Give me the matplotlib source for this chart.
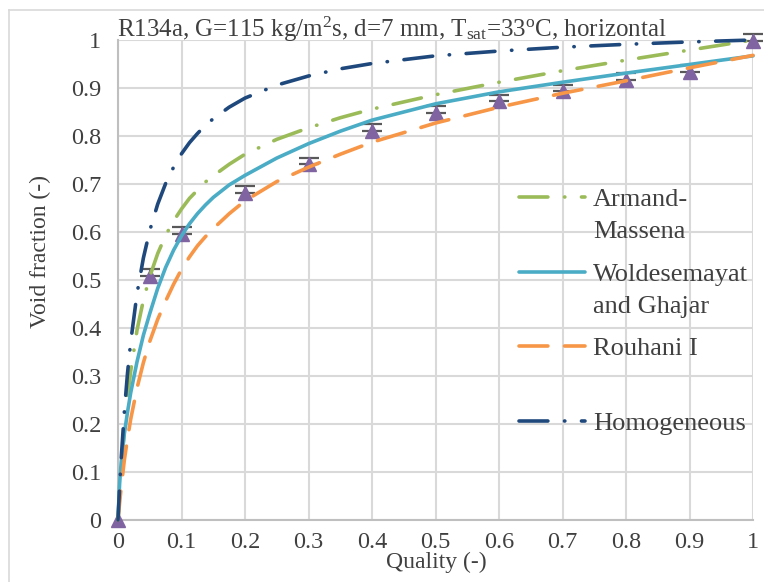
import matplotlib.pyplot as plt
from matplotlib.lines import Line2D

plt.rcParams['font.family'] = ['Liberation Serif', 'DejaVu Serif']
plt.rcParams['mathtext.fontset'] = 'custom'
plt.rcParams['mathtext.rm'] = 'Liberation Serif'
plt.rcParams['mathtext.it'] = 'Liberation Serif:italic'

# ---- data ----
quality = [0, 0.0025, 0.005, 0.01, 0.015, 0.02, 0.03, 0.04, 0.05, 0.0625, 0.075, 0.0875,
           0.1, 0.1125, 0.125, 0.1375, 0.15, 0.175, 0.2, 0.25, 0.3, 0.35, 0.4, 0.5,
           0.6, 0.7, 0.8, 0.9, 1.0]
armand = [0, 0.056, 0.106, 0.189, 0.256, 0.310, 0.396, 0.458, 0.507, 0.555, 0.593, 0.623,
          0.648, 0.670, 0.687, 0.704, 0.717, 0.741, 0.762, 0.793, 0.817, 0.838, 0.856, 0.886,
          0.912, 0.936, 0.958, 0.979, 1.0]
woldesemayat = [0, 0.075, 0.12, 0.18, 0.225, 0.265, 0.33, 0.385, 0.43, 0.4825, 0.526, 0.562,
                0.592, 0.617, 0.638, 0.656, 0.672, 0.698, 0.718, 0.754, 0.784, 0.81, 0.833, 0.867,
                0.892, 0.912, 0.931, 0.949, 0.967]
rouhani = [0, 0.035, 0.068, 0.125, 0.17, 0.21, 0.275, 0.328, 0.372, 0.418, 0.456, 0.491,
           0.522, 0.548, 0.571, 0.590, 0.607, 0.638, 0.665, 0.705, 0.735, 0.762, 0.787, 0.827,
           0.86, 0.889, 0.915, 0.942, 0.968]
homogeneous = [0, 0.068, 0.127, 0.226, 0.306, 0.371, 0.472, 0.546, 0.603, 0.658, 0.701, 0.735,
               0.763, 0.786, 0.805, 0.822, 0.836, 0.860, 0.879, 0.906, 0.925, 0.940, 0.951, 0.967,
               0.977, 0.985, 0.991, 0.996, 1.0]

exp_x = [0, 0.05, 0.1, 0.2, 0.3, 0.4, 0.5, 0.6, 0.7, 0.8, 0.9, 1.0]
exp_y = [0, 0.508, 0.596, 0.681, 0.741, 0.811, 0.848, 0.872, 0.893, 0.917, 0.933, 0.998]
exp_err = [0, 0.014, 0.014, 0.014, 0.014, 0.014, 0.014, 0.014, 0.014, 0.014, 0.014, 0.014]

ticks = [0, 0.1, 0.2, 0.3, 0.4, 0.5, 0.6, 0.7, 0.8, 0.9, 1]
tick_labels = ['0', '0.1', '0.2', '0.3', '0.4', '0.5', '0.6', '0.7', '0.8', '0.9', '1']

# ---- styles ----
W, H = 764, 582
text_col = '#404040'
grid_col = '#d9d9d9'
lw = 2.6
styles = {
    'Armand-\nMassena': dict(color='#9bbb59', dashes=(8, 4.6, 0.1, 4.6)),
    'Woldesemayat\nand Ghajar': dict(color='#4bacc6'),
    'Rouhani I': dict(color='#f79646', dashes=(8, 4.6)),
    'Homogeneous': dict(color='#1f497d', dashes=(8, 4.6, 0.1, 4.6)),
}
series = [armand, woldesemayat, rouhani, homogeneous]

fig = plt.figure(figsize=(W / 100, H / 100), dpi=100)
ax = fig.add_axes([118 / W, 1 - 520 / H, (753 - 118) / W, (520 - 40) / H])

# experimental points: only the upper whisker shows above the triangle
ax.errorbar(exp_x[1:], exp_y[1:], yerr=[[0] * (len(exp_x) - 1), exp_err[1:]], fmt='none',
            ecolor='#595959', elinewidth=1.4, capsize=7, capthick=1.6,
            clip_on=False, zorder=3)
ax.plot(exp_x, exp_y, '^', color='#8064a2', markersize=10, clip_on=False, zorder=3)

for (label, st), ys in zip(styles.items(), series):
    kw = dict(color=st['color'], lw=lw, solid_capstyle='round',
              dash_capstyle='round', clip_on=False, zorder=4)
    if 'dashes' in st:
        kw['dashes'] = st['dashes']
    ax.plot(quality, ys, **kw)

ax.set_xlim(0, 1)
ax.set_ylim(0, 1)
ax.set_xticks(ticks)
ax.set_xticklabels(tick_labels)
ax.set_yticks(ticks)
ax.set_yticklabels(tick_labels)
ax.tick_params(length=0, labelsize=17.5, labelcolor=text_col)
ax.tick_params(axis='y', pad=12)
ax.tick_params(axis='x', pad=9)
ax.grid(True, color=grid_col, lw=1.5)
ax.set_axisbelow(True)
for s in ['top', 'right']:
    ax.spines[s].set_visible(False)
for s in ['left', 'bottom']:
    ax.spines[s].set_color('#bfbfbf')
    ax.spines[s].set_linewidth(1.5)

fig.text(40 / W, 1 - 251 / H, 'Void fraction (-)', rotation=90, ha='center',
         va='center', fontsize=17, color=text_col)
fig.text(436 / W, 1 - 568 / H, 'Quality (-)', ha='center', va='baseline',
         fontsize=17, color=text_col)
fig.text(392 / W, 1 - 37 / H,
         r'R134a, G=115 kg/m$^{\rm 2}$s, d=7 mm, T$_{\rm sat}$=33$^{\rm o}$C, horizontal',
         ha='center', va='baseline', fontsize=18, color=text_col)

# hand-placed legend, as in the spreadsheet original
legend_rows = [197, 272, 346, 421]
for (label, st), yrow in zip(styles.items(), legend_rows):
    kw = dict(color=st['color'], lw=lw, solid_capstyle='round', dash_capstyle='round',
              transform=fig.transFigure)
    if 'dashes' in st:
        kw['dashes'] = st['dashes']
    fig.add_artist(Line2D([519 / W, 585 / W], [1 - yrow / H] * 2, **kw))
    for i, line in enumerate(label.split('\n')):
        fig.text(593 / W, 1 - (yrow + 9 + 32 * i) / H, line, ha='left',
                 va='baseline', fontsize=19, color=text_col)

# outer chart border
fig.add_artist(Line2D([9 / W, 9 / W], [0, 1 - 10 / H], color=grid_col, lw=1.2,
                      transform=fig.transFigure))
fig.add_artist(Line2D([9 / W, 1], [1 - 10 / H] * 2, color=grid_col, lw=1.2,
                      transform=fig.transFigure))

fig.savefig('out.png', dpi=100)
